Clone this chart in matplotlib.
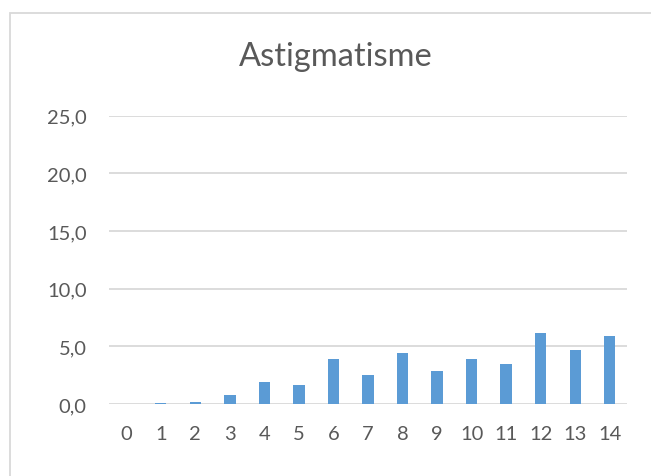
import matplotlib
matplotlib.use("Agg")
import matplotlib.pyplot as plt
from matplotlib.patches import Rectangle
from matplotlib.ticker import FuncFormatter

# Data
categories = list(range(15))
values = [0.0, 0.1, 0.15, 0.8, 1.9, 1.65, 3.93, 2.5, 4.43, 2.84, 3.9, 3.47, 6.14, 4.71, 5.9]
y_ticks = [0, 5, 10, 15, 20, 25]
title = "Astigmatisme"

font = "Lato"
text_color = "#595959"
grid_color = "#d9d9d9"
bar_color = "#5b9bd5"

fig = plt.figure(figsize=(6.51, 4.77), dpi=100)
ax = fig.add_axes([109 / 651, 1 - 405 / 477, (627 - 109) / 651, (405 - 116.7) / 477])

ax.bar(categories, values, width=0.33, color=bar_color, zorder=3)

ax.set_xlim(-0.5, 14.5)
ax.set_ylim(0, 25)
ax.set_yticks(y_ticks)
ax.yaxis.set_major_formatter(FuncFormatter(lambda v, p: f"{v:.1f}".replace(".", ",")))
ax.set_xticks(categories)
ax.set_xticklabels([str(c) for c in categories])

ax.grid(axis="y", color=grid_color, linewidth=1.3, zorder=0)
for s in ax.spines.values():
    s.set_visible(False)
ax.tick_params(axis="both", length=0, labelsize=14.5, labelcolor=text_color)
ax.tick_params(axis="y", pad=16)
ax.tick_params(axis="x", pad=15)
for lbl in ax.get_xticklabels() + ax.get_yticklabels():
    lbl.set_fontfamily(font)

fig.text(336 / 651, 1 - 57 / 477, title, ha="center", va="center",
         fontsize=23.5, color=text_color, fontfamily=font)

# chart frame
fig.patches.append(Rectangle((10 / 651, -0.1), 1.2, 1 - 14 / 477 + 0.1,
                             transform=fig.transFigure, fill=False,
                             edgecolor=grid_color, linewidth=1.3))

fig.savefig("out.png", dpi=100)
